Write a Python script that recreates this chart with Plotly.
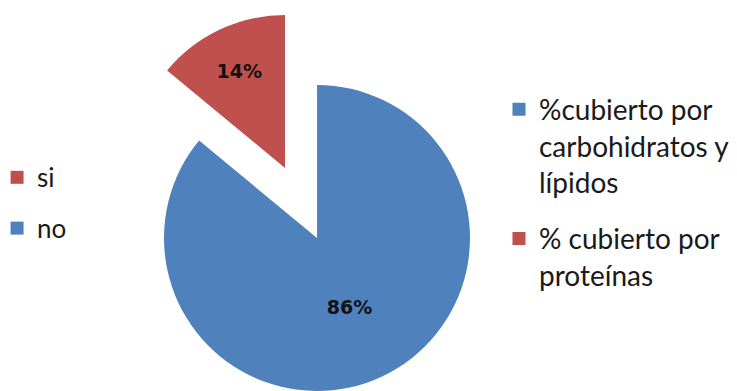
import plotly.graph_objects as go

# ---- data ----
categories = ["%cubierto por carbohidratos y lípidos", "% cubierto por proteínas"]
legend_names = ["%cubierto por<br>carbohidratos y<br>lípidos", "% cubierto por<br>proteínas"]
values = [86, 14]
left_labels = ["si", "no"]

BLUE = "#4F81BD"
RED = "#C0504D"
CLEAR = "rgba(0,0,0,0)"
slice_colors = [BLUE, RED]
left_colors = [RED, BLUE]

# the page body has an 8px margin, so the figure is sized to the visible area
OFF = 8
W, H = 737 - OFF, 391 - OFF

def dom_x(cx, r):
    cx -= OFF
    return [max(0, (cx - r) / W), min(1, (cx + r) / W)]

def dom_y(cy, r):
    cy -= OFF
    return [max(0, (H - (cy + r)) / H), min(1, (H - (cy - r)) / H)]

fig = go.Figure()

# main (blue) slice: full pie with the pulled-out slice left transparent
fig.add_trace(go.Pie(
    labels=categories, values=values, sort=False, direction="clockwise", rotation=0,
    marker=dict(colors=[slice_colors[0], CLEAR], line=dict(width=0)),
    textinfo="percent", textposition="inside", insidetextorientation="horizontal",
    textfont=dict(family="DejaVu Sans", size=19, color=["#111111", CLEAR], weight="bold"),
    domain=dict(x=dom_x(317, 153), y=dom_y(238, 153)),
    showlegend=False, hoverinfo="label+percent",
))

# exploded (red) slice
fig.add_trace(go.Pie(
    labels=categories, values=values, sort=False, direction="clockwise", rotation=0,
    marker=dict(colors=[CLEAR, slice_colors[1]], line=dict(width=0)),
    textinfo="percent", textposition="inside", insidetextorientation="horizontal",
    textfont=dict(family="DejaVu Sans", size=19, color=[CLEAR, "#111111"], weight="bold"),
    domain=dict(x=dom_x(285, 153), y=dom_y(168, 153)),
    showlegend=False, hoverinfo="label+percent",
))

# right legend
for name, col in zip(legend_names, slice_colors):
    fig.add_trace(go.Scatter(
        x=[None], y=[None], mode="markers", name=name, legend="legend2",
        marker=dict(symbol="square", size=13, color=col),
        legendgroup=name,
    ))

# left legend
for name, col in zip(left_labels, left_colors):
    fig.add_trace(go.Scatter(
        x=[None], y=[None], mode="markers", name=name, legend="legend",
        marker=dict(symbol="square", size=13, color=col),
        legendgroup=name,
    ))

fig.update_layout(
    width=W, height=H,
    margin=dict(l=0, r=0, t=0, b=0, autoexpand=False),
    paper_bgcolor="white", plot_bgcolor="white",
    xaxis=dict(visible=False), yaxis=dict(visible=False),
    legend=dict(x=-0.015, y=0.619, xanchor="left", yanchor="top",
                font=dict(family="Lato", size=26, color="#1a1a1a"),
                traceorder="grouped", tracegroupgap=14, bgcolor="rgba(0,0,0,0)"),
    legend2=dict(x=0.6735, y=0.80, xanchor="left", yanchor="top", valign="top",
                 font=dict(family="Lato", size=28, color="#1a1a1a"),
                 traceorder="grouped", tracegroupgap=17, bgcolor="rgba(0,0,0,0)"),
)

fig.write_html("out.html")
